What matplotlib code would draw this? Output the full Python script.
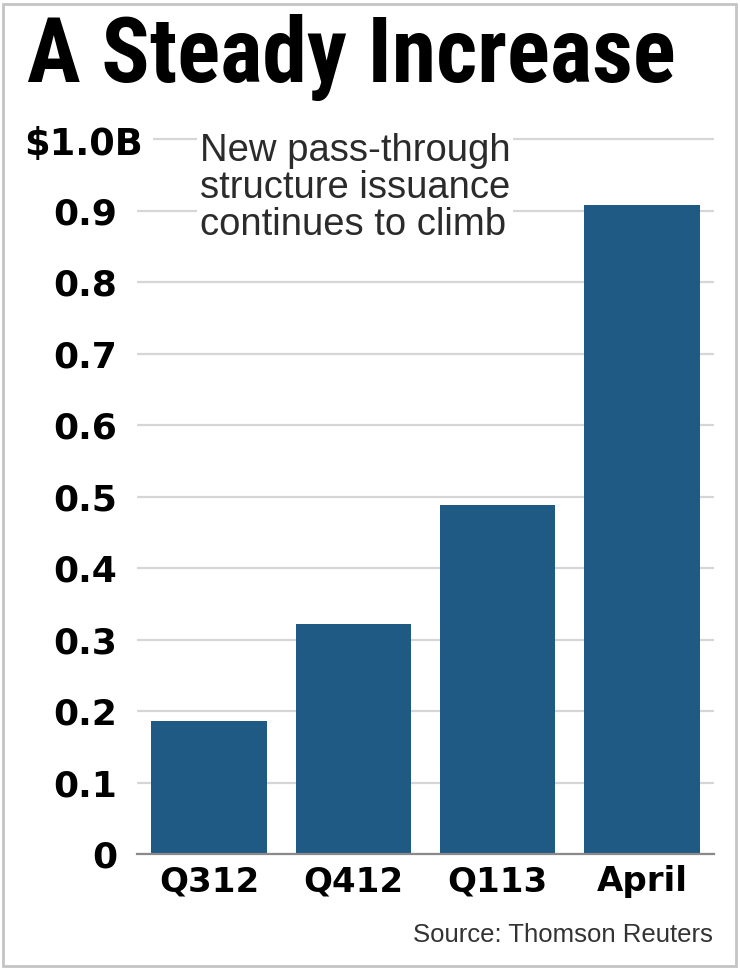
import matplotlib
matplotlib.use("Agg")
import matplotlib.pyplot as plt
from matplotlib.patches import Rectangle

# data
categories = ["Q312", "Q412", "Q113", "April"]
values = [0.186, 0.322, 0.488, 0.908]
yticks = [0, 0.1, 0.2, 0.3, 0.4, 0.5, 0.6, 0.7, 0.8, 0.9, 1.0]
ytick_labels = ["0", "0.1", "0.2", "0.3", "0.4", "0.5", "0.6", "0.7", "0.8", "0.9", ""]

bar_color = "#1e5a84"
grid_color = "#d6d6d6"
tick_font = "DejaVu Sans"
condensed = ["Roboto Condensed", "Archivo Narrow", "Barlow Condensed", "DejaVu Sans"]

fig = plt.figure(figsize=(7.4, 9.69), dpi=100)
fig.patch.set_facecolor("white")

# thin grey frame around the whole graphic
fig.patches.append(Rectangle((0.004, 0.003), 0.99, 0.993, transform=fig.transFigure,
                             fill=False, edgecolor="#c4c4c4", linewidth=2))

ax = fig.add_axes([0.185, 0.1186, 0.78, 0.7746])
ax.bar(range(len(categories)), values, width=0.8, color=bar_color, zorder=3)
ax.set_xlim(-0.5, 3.5)
ax.set_ylim(0, 1.05)

ax.set_yticks(yticks)
ax.set_yticklabels(ytick_labels)
ax.set_xticks(range(len(categories)))
ax.set_xticklabels(categories)
ax.yaxis.grid(True, color=grid_color, linewidth=1.6, zorder=0)
ax.set_axisbelow(True)

for side in ["top", "right", "left"]:
    ax.spines[side].set_visible(False)
ax.spines["bottom"].set_color("#8a8a8a")
ax.spines["bottom"].set_linewidth(1.6)
ax.spines["bottom"].set_zorder(4)

ax.tick_params(axis="both", length=0)
ax.tick_params(axis="y", pad=14)
ax.tick_params(axis="x", pad=8)
for lbl in ax.get_yticklabels():
    lbl.set_fontfamily(tick_font)
    lbl.set_fontweight("bold")
    lbl.set_fontsize(26)
    lbl.set_color("black")
for lbl in ax.get_xticklabels():
    lbl.set_fontfamily(tick_font)
    lbl.set_fontweight("bold")
    lbl.set_fontsize(24.5)
    lbl.set_color("black")

# top label of the axis
fig.text(143 / 740, 1 - 141 / 969, "$1.0B", ha="right", va="center_baseline",
         fontsize=26.5, fontweight="bold", family=tick_font, color="black",
         bbox=dict(facecolor="white", edgecolor="none", pad=7), zorder=5)

# annotation
fig.text(200 / 740, 1 - 133 / 969,
         "New pass-through\nstructure issuance\ncontinues to climb",
         ha="left", va="top", fontsize=27.5, family="Liberation Sans", color="#2b2b2b",
         linespacing=1.03, bbox=dict(facecolor="white", edgecolor="none", pad=2), zorder=6)

# title
fig.text(27 / 740, 1 - 82 / 969, "A Steady Increase", ha="left", va="baseline",
         fontsize=64.5, fontweight="bold", family=condensed, color="black")

# source
fig.text(713 / 740, 1 - 942 / 969, "Source: Thomson Reuters", ha="right", va="baseline",
         fontsize=18.5, family="Liberation Sans", color="#333333")

fig.savefig("out.png", dpi=100, facecolor="white")
